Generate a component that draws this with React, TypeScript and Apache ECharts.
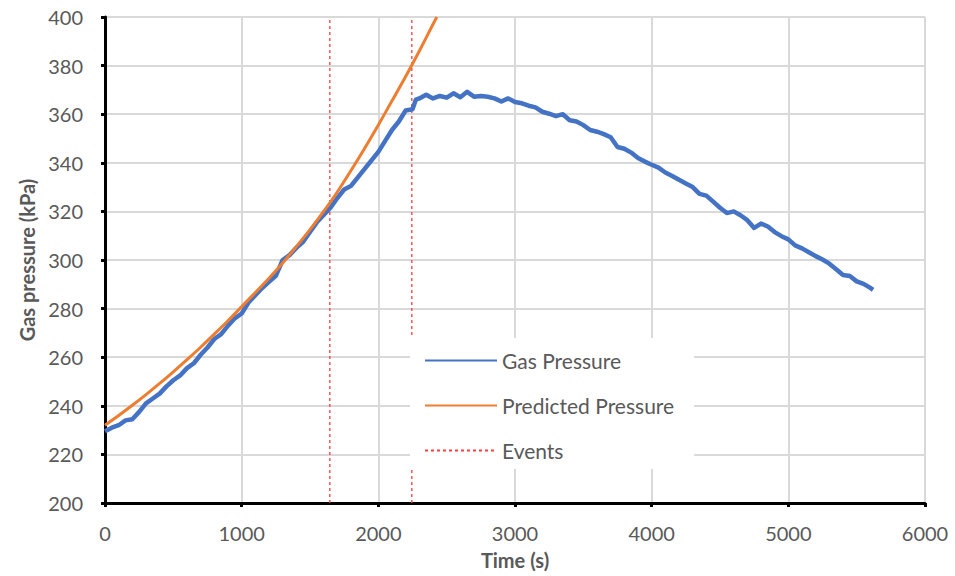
import React, { useEffect, useRef } from "react";
import * as echarts from "echarts";

const gasTimes = [
  0, 50, 100, 150, 200, 250, 300, 350, 400, 450, 500, 550, 600, 650, 700, 750, 800, 850, 900, 950,
  1000, 1050, 1100, 1150, 1200, 1250, 1300, 1350, 1400, 1450, 1500, 1550, 1600, 1650, 1700, 1750,
  1800, 1850, 1900, 1950, 2000, 2050, 2100, 2150, 2200, 2250, 2275, 2300, 2350, 2400, 2450, 2500,
  2550, 2600, 2650, 2700, 2750, 2800, 2850, 2900, 2950, 3000, 3050, 3100, 3150, 3200, 3250, 3300,
  3350, 3400, 3450, 3500, 3550, 3600, 3650, 3700, 3750, 3800, 3850, 3900, 3950, 4000, 4050, 4100,
  4150, 4200, 4250, 4300, 4350, 4400, 4450, 4500, 4550, 4600, 4650, 4700, 4750, 4800, 4850, 4900,
  4950, 5000, 5050, 5100, 5150, 5200, 5250, 5300, 5350, 5400, 5450, 5500, 5550, 5600, 5620,
];
const gasPressure = [
  229.5, 231, 232, 234, 234.5, 237.5, 241, 243, 245, 248, 250.5, 252.5, 255.5, 257.5, 261, 264,
  267.5, 269.5, 273, 276, 278, 282.5, 285.5, 288.5, 291, 293.5, 300, 302, 305, 307.5, 311.5, 315.5,
  318.5, 321.5, 325.5, 329, 330.5, 334, 337.5, 341, 344.5, 349, 353.5, 357, 361.5, 362, 366, 366.5,
  368, 366.5, 367.5, 366.8, 368.6, 367, 369.2, 367.2, 367.5, 367.2, 366.5, 365.2, 366.5, 365, 364.5,
  363.5, 362.8, 361, 360.2, 359.2, 360, 357.5, 357, 355.5, 353.5, 352.8, 351.8, 350.5, 346.5, 345.8,
  344.2, 342, 340.5, 339.2, 338, 336, 334.6, 333, 331.5, 330, 327.2, 326.5, 324, 321.5, 319.3, 320,
  318.4, 316.4, 313.2, 315, 313.8, 311.5, 309.8, 308.5, 306, 304.8, 303.2, 301.6, 300.2, 298.5, 296.2,
  293.8, 293.4, 291.2, 290.2, 288.5, 287.7,
];

const predTimes = [
  0, 100, 200, 300, 400, 500, 600, 700, 800, 900, 1000, 1100, 1200, 1300, 1400, 1500, 1600, 1700,
  1800, 1900, 2000, 2100, 2200, 2300, 2400, 2428,
];
const predPressure = [
  232, 236, 240.2, 244.6, 249.2, 254, 259, 264.1, 269.5, 275, 280.8, 286.6, 292.5, 298.8, 305.5,
  312.5, 320, 328, 336.8, 346, 355.6, 365.5, 375.5, 386, 397, 400,
];

const eventTimes = [1645, 2245];
const xTicks = [0, 1000, 2000, 3000, 4000, 5000, 6000];
const yTicks = [200, 220, 240, 260, 280, 300, 320, 340, 360, 380, 400];

const FONT = "Lato, 'Open Sans', sans-serif";
const GRAY = "#595959";

export default function App() {
  const ref = useRef<HTMLDivElement>(null);
  useEffect(() => {
    if (!ref.current) return;
    const chart = echarts.init(ref.current, undefined, { renderer: "svg" });
    const eventSeries = eventTimes.map((t) => ({
      name: "Events",
      type: "line",
      symbol: "none",
      data: [
        [t, yTicks[0]],
        [t, yTicks[yTicks.length - 1]],
      ],
      lineStyle: { color: "#ff3b3b", width: 1.3, type: [3, 3] },
      itemStyle: { color: "#ff3b3b" },
      z: 1,
    }));
    chart.setOption({
      animation: false,
      backgroundColor: "#ffffff",
      textStyle: { fontFamily: FONT },
      grid: { left: 105, right: 30, top: 17, bottom: 73, containLabel: false },
      xAxis: {
        type: "value",
        min: xTicks[0],
        max: xTicks[xTicks.length - 1],
        interval: 1000,
        name: "Time (s)",
        nameLocation: "middle",
        nameGap: 47,
        nameTextStyle: { color: GRAY, fontSize: 20, fontWeight: "bold", fontFamily: FONT },
        axisLine: { show: true, lineStyle: { color: "#000", width: 3 } },
        axisTick: { show: true, length: 4, lineStyle: { color: "#000", width: 3 } },
        axisLabel: {
          color: GRAY,
          fontSize: 20,
          margin: 20,
          fontFamily: FONT,
          formatter: (v: number) => String(v),
        },
        splitLine: { show: true, lineStyle: { color: "#d9d9d9", width: 2 } },
      },
      yAxis: {
        type: "value",
        min: yTicks[0],
        max: yTicks[yTicks.length - 1],
        interval: 20,
        name: "Gas pressure (kPa)",
        nameLocation: "middle",
        nameGap: 66,
        nameTextStyle: { color: GRAY, fontSize: 20, fontWeight: "bold", fontFamily: FONT },
        axisLine: { show: true, lineStyle: { color: "#000", width: 3 } },
        axisTick: { show: true, length: 4, lineStyle: { color: "#000", width: 3 } },
        axisLabel: { color: GRAY, fontSize: 20, margin: 22, fontFamily: FONT },
        splitLine: { show: true, lineStyle: { color: "#d9d9d9", width: 2 } },
      },
      legend: {
        orient: "vertical",
        left: 410,
        top: 338,
        data: ["Gas Pressure", "Predicted Pressure", "Events"],
        backgroundColor: "#ffffff",
        padding: [12, 20, 8, 14],
        itemWidth: 72,
        itemHeight: 14,
        itemGap: 24,
        itemStyle: { opacity: 0 },
        textStyle: { color: GRAY, fontSize: 21, lineHeight: 20, fontFamily: FONT },
      },
      series: [
        {
          name: "Gas Pressure",
          type: "line",
          symbol: "none",
          data: gasTimes.map((t, i) => [t, gasPressure[i]]),
          lineStyle: { color: "#4472c4", width: 4.5, join: "round" },
          itemStyle: { color: "#4472c4" },
          z: 2,
        },
        {
          name: "Predicted Pressure",
          type: "line",
          symbol: "none",
          smooth: 0.3,
          data: predTimes.map((t, i) => [t, predPressure[i]]),
          lineStyle: { color: "#ed7d31", width: 3 },
          itemStyle: { color: "#ed7d31" },
          z: 3,
        },
        ...eventSeries,
      ],
    });
    return () => chart.dispose();
  }, []);
  return <div ref={ref} style={{ width: 955, height: 576, position: "absolute", left: 0, top: 0 }} />;
}
